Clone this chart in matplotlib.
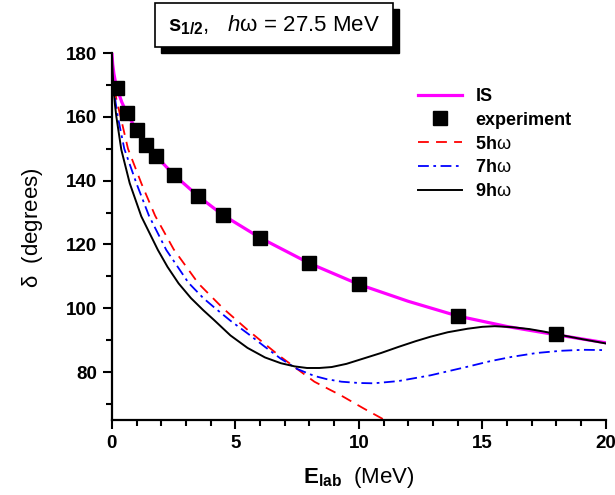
import numpy as np
import matplotlib
matplotlib.use('Agg')
import matplotlib.pyplot as plt
from matplotlib.patches import Rectangle

plt.rcParams['font.family'] = 'Liberation Sans'
plt.rcParams['mathtext.fontset'] = 'custom'
plt.rcParams['mathtext.rm'] = 'Liberation Sans'
plt.rcParams['mathtext.it'] = 'Liberation Sans:italic'
plt.rcParams['mathtext.bf'] = 'Liberation Sans:bold'

#### data
E_exp = [0.2, 0.6, 1.0, 1.4, 1.8, 2.5, 3.5, 4.5, 6.0, 8.0, 10.0, 14.0, 18.0]
d_exp = [169.0, 161.2, 155.8, 151.3, 147.6, 141.9, 135.1, 129.2, 122.1, 114.1, 107.5, 97.6, 91.8]

E_is = [0, 0.03, 0.08, 0.14, 0.2, 0.4, 0.6, 1.0, 1.4, 1.8, 2.5, 3.5, 4.5, 6, 8, 10, 12, 14, 16, 18, 20]
d_is = [180, 176.5, 173.5, 171.0, 169.0, 164.6, 161.2, 155.8, 151.3, 147.6, 141.9, 135.1, 129.2,
        122.1, 114.1, 107.5, 102.2, 97.6, 94.3, 91.7, 89.2]

E_5 = [0, 0.03, 0.08, 0.18, 0.35, 0.65, 1.2, 1.75, 2.5, 3.5, 4.5, 5.5, 6.8, 8.2, 9.3, 10.2, 11.4]
d_5 = [180, 175.0, 170.5, 165.5, 160.0, 150.0, 139.0, 129.0, 118.5, 107.8, 100.0, 93.2, 85.0,
       77.0, 72.6, 68.6, 63.5]

E_7 = [0, 0.03, 0.08, 0.15, 0.24, 0.5, 1.0, 1.5, 2.2, 3.1, 3.7, 4.14, 4.8, 5.5, 6.2, 6.84, 7.5,
       8.2, 8.7, 9.3, 10.0, 10.6, 11.6, 12.9, 14.4, 15.3, 16.2, 17.2, 18.2, 19.1, 20]
d_7 = [180, 174.5, 169.5, 164.5, 160.0, 150.0, 139.0, 129.0, 118.3, 108.0, 103.2, 100.3, 96.1,
       92.1, 87.9, 84.2, 81.0, 78.8, 77.8, 77.0, 76.6, 76.5, 77.2, 79.0, 81.7, 83.4, 84.8,
       86.0, 86.7, 87.0, 86.9]

E_9 = [0, 0.03, 0.07, 0.12, 0.18, 0.38, 0.72, 1.19, 1.86, 2.25, 2.7, 3.2, 3.7, 4.14, 4.8,
       5.49, 6.2, 6.84, 7.4, 7.9, 8.4, 8.9, 9.5, 10.2, 10.9, 11.6, 12.3, 12.9, 13.6, 14.4, 15.0,
       15.5, 16.2, 16.9, 17.5, 18, 19, 20]
d_9 = [180, 174.0, 168.5, 164.0, 160.0, 149.7, 139.2, 128.8, 118.3, 113.0, 107.8, 103.2, 99.4,
       96.3, 91.5, 87.6, 84.6, 82.8, 81.8, 81.3, 81.3, 81.6, 82.6, 84.3, 86.0, 87.9, 89.7, 91.1,
       92.5, 93.6, 94.2, 94.4, 94.1, 93.5, 92.7, 91.9, 90.4, 89.0]

fig = plt.figure(figsize=(6.15, 4.95), dpi=100)
ax = fig.add_axes([0.182, 0.1515, 0.803, 0.7414])

ax.plot(E_is, d_is, color='#ff00ff', lw=2.3, label='IS', zorder=3)
ax.plot(E_exp, d_exp, 's', color='black', ms=9.5, label='experiment', zorder=5)
ax.plot(E_5, d_5, color='red', lw=1.3, dashes=(6, 4), label='5h$\\mathrm{\\omega}$', zorder=2)
ax.plot(E_7, d_7, color='blue', lw=1.3, dashes=(6, 2.5, 1.5, 2.5), label='7h$\\mathrm{\\omega}$', zorder=2)
ax.plot(E_9, d_9, color='black', lw=1.4, label='9h$\\mathrm{\\omega}$', zorder=4)

ax.set_xlim(0, 20)
ax.set_ylim(65, 180)
ax.set_xticks([0, 5, 10, 15, 20])
ax.set_xticks(np.arange(0, 21, 1), minor=True)
ax.set_yticks([80, 100, 120, 140, 160, 180])
ax.set_yticks(np.arange(70, 181, 10), minor=True)

ax.spines['top'].set_visible(False)
ax.spines['right'].set_visible(False)
ax.spines['left'].set_linewidth(1.6)
ax.spines['bottom'].set_linewidth(1.6)
ax.tick_params(which='major', direction='out', length=6.5, width=1.5, labelsize=13.5, pad=4)
ax.tick_params(which='minor', direction='out', length=4, width=1.5)
for lab in ax.get_xticklabels() + ax.get_yticklabels():
    lab.set_fontweight('bold')

ax.set_xlabel('$\\mathbf{E}_{\\mathbf{lab}}$  (MeV)', fontsize=16, labelpad=10)
ax.set_ylabel('$\\mathrm{\\delta}$  (degrees)', fontsize=16)
ax.yaxis.set_label_coords(-0.135, 0.525)

leg = ax.legend(loc='upper left', bbox_to_anchor=(0.619, 0.905), frameon=False,
                prop={'size': 13, 'weight': 'bold'}, handlelength=2.45, handletextpad=0.75,
                labelspacing=0.38, borderpad=0, borderaxespad=0)

#### title box with shadow
bx, by, bw, bh = 0.252, 0.905, 0.387, 0.089
fig.patches.append(Rectangle((bx + 0.0105, by - 0.012), bw, bh, transform=fig.transFigure,
                             facecolor='black', edgecolor='black', zorder=1))
fig.patches.append(Rectangle((bx, by), bw, bh, transform=fig.transFigure,
                             facecolor='white', edgecolor='black', lw=1.2, zorder=2))
fig.text(bx + bw / 2, by + bh / 2, '$\\mathbf{s}_{\\mathbf{1/2}}$,   $h\\mathrm{\\omega}$ = 27.5 MeV',
         ha='center', va='center', fontsize=16, zorder=3)

plt.savefig('out.png', dpi=100)
